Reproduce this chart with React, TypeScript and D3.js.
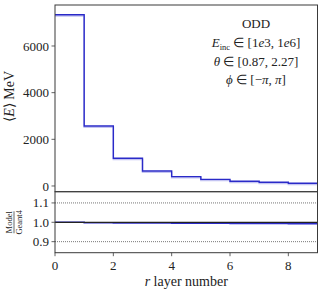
import React from "react";
import * as d3 from "d3";

const layers = [0, 1, 2, 3, 4, 5, 6, 7, 8];
const energy = [7340, 2570, 1186, 643, 400, 285, 200, 157, 114];
const ratio = [1.0, 0.998, 0.997, 0.996, 0.995, 0.995, 0.994, 0.994, 0.993];
const mainTicks = [0, 2000, 4000, 6000];
const ratioTicks = [0.9, 1.0, 1.1];
const xTicks = [0, 2, 4, 6, 8];

const W = 324, H = 292;
const left = 55, right = 317.5, top = 5, mid = 191.7, bottom = 252.7;
const font = "'Liberation Serif', serif";
const spine = "#3a3a3a";
const blue = "#2a2ac8";
const ink = "#222";

export default function App() {
  const x = d3.scaleLinear().domain([0, 9]).range([left, right]);
  const y = d3.scaleLinear().domain([-245, 7757]).range([mid, top]);
  const yr = d3.scaleLinear().domain([0.843, 1.158]).range([bottom, mid]);

  const edges = [...layers, layers[layers.length - 1] + 1];
  const stepE = edges.map((l, i) => [l, energy[Math.min(i, energy.length - 1)]] as [number, number]);
  const stepR = edges.map((l, i) => [l, ratio[Math.min(i, ratio.length - 1)]] as [number, number]);
  const lineE = d3.line<[number, number]>().x(d => x(d[0])).y(d => y(d[1])).curve(d3.curveStepAfter);
  const lineR = d3.line<[number, number]>().x(d => x(d[0])).y(d => yr(d[1])).curve(d3.curveStepAfter);

  return (
    <svg width={W} height={H} style={{ position: "absolute", left: 0, top: 0, fontFamily: font }} fill={ink}>
      <rect width={W} height={H} fill="white" />
      {/* main panel */}
      <path d={lineE(stepE) || ""} fill="none" stroke="#c4c4f2" strokeWidth={1.5} transform="translate(0,1.2)" />
      <path d={lineE(stepE) || ""} fill="none" stroke={blue} strokeWidth={1.4} />
      {mainTicks.map(t => (
        <g key={t}>
          <line x1={left - 3.5} x2={left} y1={y(t)} y2={y(t)} stroke={spine} strokeWidth={0.8} />
          <text x={left - 6} y={y(t)} dy="0.35em" textAnchor="end" fontSize={13}>{t}</text>
        </g>
      ))}
      <rect x={left} y={top} width={right - left} height={mid - top} fill="none" stroke={spine} strokeWidth={1} />
      <text transform={`translate(14,${(top + mid) / 2 - 2}) rotate(-90)`} textAnchor="middle" fontSize={14}>
        ⟨<tspan fontStyle="italic">E</tspan>⟩ MeV
      </text>
      <g fontSize={13} textAnchor="middle">
        <text x={256} y={28}>ODD</text>
        <text x={256} y={47}>
          <tspan fontStyle="italic">E</tspan><tspan fontSize={8.5} dy={2.5}>inc</tspan>
          <tspan dy={-2.5}> ∈ [1</tspan><tspan fontStyle="italic">e</tspan><tspan>3, 1</tspan><tspan fontStyle="italic">e</tspan><tspan>6]</tspan>
        </text>
        <text x={256} y={65.5}>
          <tspan fontStyle="italic">θ</tspan><tspan> ∈ [0.87, 2.27]</tspan>
        </text>
        <text x={256} y={84}>
          <tspan fontStyle="italic">ϕ</tspan><tspan> ∈ [−</tspan><tspan fontStyle="italic">π</tspan><tspan>, </tspan><tspan fontStyle="italic">π</tspan><tspan>]</tspan>
        </text>
      </g>
      {/* ratio panel */}
      {[0.9, 1.1].map(t => (
        <line key={t} x1={left} x2={right} y1={yr(t)} y2={yr(t)} stroke="#777" strokeWidth={1} strokeDasharray="1,1" />
      ))}
      <path d={lineR(stepR) || ""} fill="none" stroke={blue} strokeWidth={1.5} />
      <line x1={left} x2={right} y1={yr(1)} y2={yr(1)} stroke="#222" strokeWidth={1.2} />
      {ratioTicks.map(t => (
        <g key={t}>
          <line x1={left - 3.5} x2={left} y1={yr(t)} y2={yr(t)} stroke={spine} strokeWidth={0.8} />
          <text x={left - 6} y={yr(t)} dy="0.35em" textAnchor="end" fontSize={13}>{t.toFixed(1)}</text>
        </g>
      ))}
      {xTicks.map(t => (
        <g key={t}>
          <line x1={x(t)} x2={x(t)} y1={bottom} y2={bottom + 3.5} stroke={spine} strokeWidth={0.8} />
          <text x={x(t)} y={bottom + 17} textAnchor="middle" fontSize={13}>{t}</text>
        </g>
      ))}
      <rect x={left} y={mid} width={right - left} height={bottom - mid} fill="none" stroke={spine} strokeWidth={1} />
      <g transform={`translate(14,${yr(1)}) rotate(-90)`} fontSize={8.5} textAnchor="middle">
        <text x={0} y={-2}>Model</text>
        <line x1={-11} x2={11} y1={0} y2={0} stroke="black" strokeWidth={0.6} />
        <text x={0} y={7.5}>Geant4</text>
      </g>
      <text x={(left + right) / 2} y={bottom + 33} textAnchor="middle" fontSize={14}>
        <tspan fontStyle="italic">r</tspan> layer number
      </text>
    </svg>
  );
}
